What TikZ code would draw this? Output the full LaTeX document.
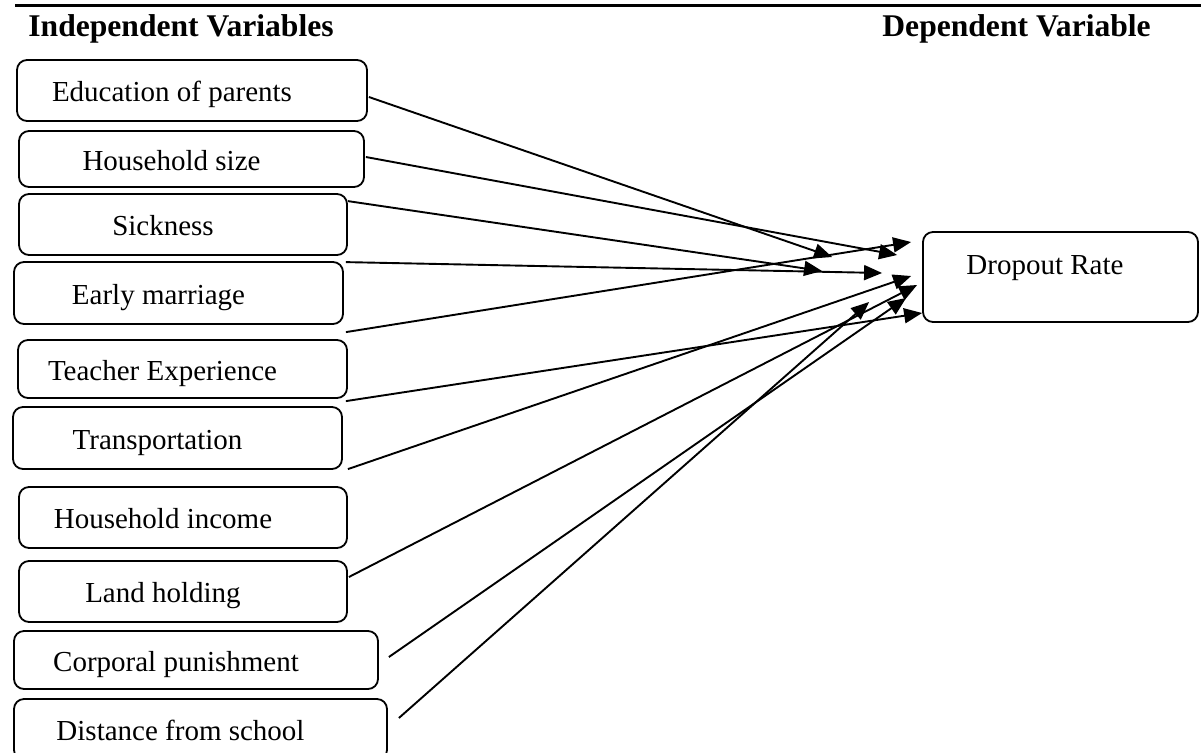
\documentclass[tikz,border=0pt]{standalone}
\usepackage{fontspec}
\setmainfont{Liberation Serif}
\usetikzlibrary{arrows.meta}
\tikzset{
    box/.style={draw, rounded corners=5pt, line width=0.9pt, inner sep=0pt,
        font=\fontsize{14.5}{17}\selectfont},
    var/.style={box, text height=11pt, text depth=0pt,
        execute at end node={\hspace*{20pt}}},
    outcome/.style={box, text height=11pt, text depth=14pt,
        execute at end node={\hspace*{15.5pt}}},
    head/.style={anchor=base west, inner sep=0pt,
        font=\fontsize{15.8}{19}\selectfont\bfseries},
    link/.style={draw, line width=0.95pt, -{Triangle[length=9pt,width=7.5pt]}}
}

\begin{document}
\begin{tikzpicture}[x=0.5pt, y=-0.5pt]
    \clip (0,0) rectangle (1201,752);
    \draw[line width=1.75pt] (15,5.5) -- (1201,5.5);
    \node[head] (iv) at (28,36) {Independent Variables};
    \node[head] (dv) at (882,36) {Dependent Variable};

    \node[var, minimum width=175pt, minimum height=30.5pt] (edu) at (192,90.5) {Education of parents};
    \node[var, minimum width=172.5pt, minimum height=28pt] (hh) at (191.5,159) {Household size};
    \node[var, minimum width=164pt, minimum height=30.5pt] (sick) at (183,224.5) {Sickness};
    \node[var, minimum width=164.5pt, minimum height=31pt] (em) at (178.5,293) {Early marriage};
    \node[var, minimum width=164.5pt, minimum height=29pt] (tex) at (182.5,369) {Teacher Experience};
    \node[var, minimum width=164.5pt, minimum height=31pt] (trans) at (177.5,438) {Transportation};
    \node[var, minimum width=164pt, minimum height=30.5pt] (inc) at (183,517.5) {Household income};
    \node[var, minimum width=164pt, minimum height=30.5pt] (land) at (183,591.5) {Land holding};
    \node[var, minimum width=182pt, minimum height=29pt] (corp) at (196,660) {Corporal punishment};
    \node[var, minimum width=186.5pt, minimum height=30.5pt] (dist) at (200.5,729.5) {Distance from school};

    \node[outcome, minimum width=137.5pt, minimum height=45pt] (dr) at (1060.5,277) {Dropout Rate};

    \path
        ([shift={(1,6.5)}]edu.east) edge[link] ([shift={(-90,-20)}]dr.west)
        ([shift={(1,-2)}]hh.east) edge[link] ([shift={(-25,-22)}]dr.west)
        ([shift={(0,8)}]sick.north east) edge[link] ([shift={(-100,-6)}]dr.west)
        ([shift={(2,1)}]em.north east) edge[link] ([shift={(-40,-4)}]dr.west)
        ([shift={(-2,-7)}]tex.north east) edge[link] ([shift={(-11,-35)}]dr.west)
        ([shift={(3,-5)}]trans.north east) edge[link] ([shift={(0,36)}]dr.west)
        ([shift={(0,-17)}]inc.north east) edge[link] ([shift={(-11,-1)}]dr.west)
        ([shift={(1,-14.5)}]land.east) edge[link] ([shift={(-5,8)}]dr.west)
        ([shift={(10,-3)}]corp.east) edge[link] ([shift={(-16,21)}]dr.west)
        ([shift={(11,-11.5)}]dist.east) edge[link] ([shift={(-53,25)}]dr.west);
\end{tikzpicture}
\end{document}
